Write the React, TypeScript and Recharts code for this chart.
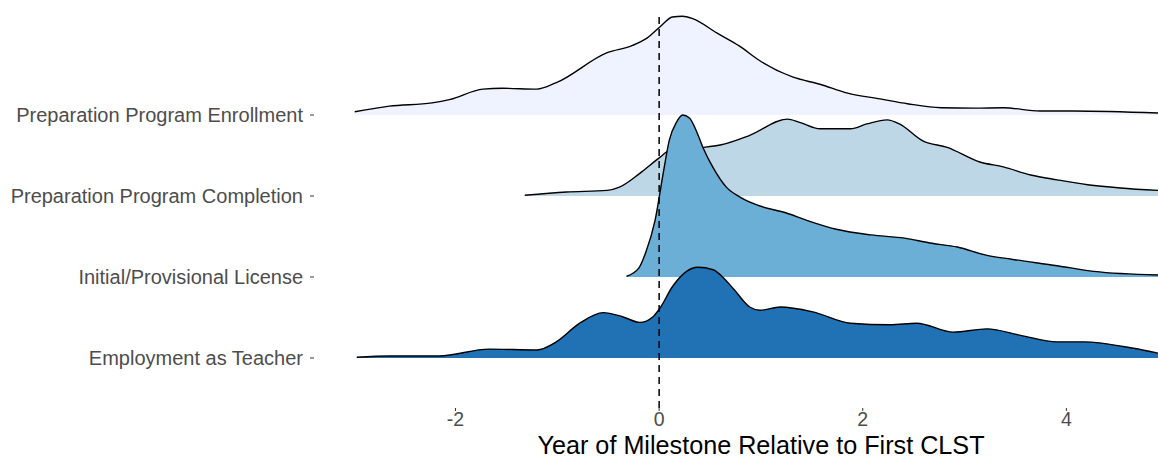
import React from 'react'
import {
  ComposedChart,
  Area,
  XAxis,
  YAxis,
  ReferenceLine,
  Label,
} from 'recharts'

// ridge rows, bottom to top (y position 1..4)
const categories = [
  'Employment as Teacher',
  'Initial/Provisional License',
  'Preparation Program Completion',
  'Preparation Program Enrollment',
]
const ridgeBase = [1, 2, 3, 4]
const xTicks = [-2, 0, 2, 4]

// [year relative to first CLST, ridge height]
const enrollment: [number, number][] = [
  [-2.99, 0.04], [-2.65, 0.11], [-2.23, 0.15], [-2.06, 0.19], [-1.73, 0.32],
  [-1.54, 0.33], [-1.2, 0.32], [-1.01, 0.4], [-0.51, 0.77], [-0.26, 0.86],
  [-0.12, 0.95], [0.01, 1.09], [0.13, 1.21], [0.23, 1.22], [0.33, 1.19],
  [0.57, 1.01], [0.79, 0.85], [0.99, 0.67], [1.31, 0.47], [1.58, 0.38],
  [1.85, 0.27], [2.17, 0.2], [2.44, 0.14], [2.77, 0.09], [3.1, 0.085],
  [3.38, 0.09], [3.74, 0.05], [4.07, 0.05], [4.9, 0.025],
]

const completion: [number, number][] = [
  [-1.32, 0.01], [-0.91, 0.05], [-0.51, 0.07], [-0.39, 0.11], [-0.19, 0.28],
  [0.01, 0.48], [0.1, 0.56], [0.25, 0.58], [0.43, 0.6], [0.6, 0.63],
  [0.89, 0.75], [1.26, 0.95], [1.38, 0.91], [1.58, 0.83], [1.88, 0.83],
  [2.04, 0.89], [2.24, 0.94], [2.36, 0.89], [2.59, 0.68], [2.83, 0.6],
  [3.15, 0.42], [3.38, 0.36], [3.65, 0.26], [3.91, 0.2], [4.21, 0.14],
  [4.53, 0.1], [4.9, 0.07],
]

const license: [number, number][] = [
  [-0.32, 0.01], [-0.2, 0.11], [-0.13, 0.31], [-0.04, 0.7], [0.04, 1.28],
  [0.1, 1.69], [0.17, 1.91], [0.23, 2.0], [0.3, 1.96], [0.37, 1.79],
  [0.43, 1.6], [0.53, 1.35], [0.66, 1.11], [0.79, 0.99], [0.96, 0.89],
  [1.25, 0.79], [1.45, 0.7], [1.74, 0.59], [2.08, 0.52], [2.41, 0.48],
  [2.66, 0.42], [2.93, 0.37], [3.21, 0.27], [3.46, 0.22], [3.91, 0.14],
  [4.27, 0.07], [4.9, 0.025],
]

const employment: [number, number][] = [
  [-2.97, 0.01], [-2.65, 0.025], [-2.16, 0.025], [-1.67, 0.11], [-1.2, 0.1],
  [-1.01, 0.2], [-0.78, 0.43], [-0.55, 0.56], [-0.36, 0.51], [-0.19, 0.44],
  [-0.06, 0.51], [0.01, 0.62], [0.13, 0.88], [0.27, 1.07], [0.38, 1.12],
  [0.53, 1.09], [0.64, 0.98], [0.74, 0.84], [0.89, 0.63], [0.99, 0.59],
  [1.19, 0.63], [1.51, 0.57], [1.88, 0.43], [2.27, 0.41], [2.53, 0.43],
  [2.89, 0.32], [3.22, 0.36], [3.55, 0.28], [3.91, 0.2], [4.17, 0.2],
  [4.66, 0.12], [4.9, 0.06],
]

// drawn top ridge first so lower ridges overlap it
const series = [
  { key: 'enrollment', points: enrollment, base: 4, fill: '#EFF3FF' },
  { key: 'completion', points: completion, base: 3, fill: '#BDD7E7' },
  { key: 'license', points: license, base: 2, fill: '#6BAED6' },
  { key: 'employment', points: employment, base: 1, fill: '#2171B5' },
]

const rows = new Map<number, Record<string, number>>()
series.forEach((s) => {
  s.points.forEach(([x, h]) => {
    const row = rows.get(x) ?? { x }
    row[s.key] = s.base + h
    rows.set(x, row)
  })
})
const data = Array.from(rows.values()).sort((a, b) => a.x - b.x)

const font = "'Liberation Sans', Arial, Helvetica, sans-serif"

export default function App() {
  return (
    <div style={{ position: 'absolute', left: 0, top: 0, background: '#fff' }}>
      <ComposedChart
        width={1158}
        height={459}
        data={data}
        margin={{ top: 15, right: 0, bottom: 0, left: 0 }}
        style={{ fontFamily: font }}>
        <XAxis
          dataKey='x'
          type='number'
          domain={[-3.39, 4.9]}
          ticks={xTicks}
          allowDataOverflow
          axisLine={false}
          tickSize={3}
          tickMargin={1}
          tickLine={{ stroke: '#333333' }}
          tick={{ fill: '#4D4D4D', fontSize: 19.5 }}
          height={51}>
          <Label
            value='Year of Milestone Relative to First CLST'
            position='insideBottom'
            offset={5}
            dx={25}
            style={{ fill: '#000', fontSize: 25.2 }}
          />
        </XAxis>
        <YAxis
          type='number'
          domain={[0.383, 5.235]}
          ticks={ridgeBase}
          interval={0}
          allowDataOverflow
          tickFormatter={(v: number) => categories[v - 1]}
          axisLine={false}
          tickSize={4}
          tickMargin={7}
          tickLine={{ stroke: '#333333' }}
          tick={{ fill: '#4D4D4D', fontSize: 20 }}
          width={314}
        />
        {series.map((s) => (
          <Area
            key={s.key}
            dataKey={s.key}
            type='monotone'
            baseValue={s.base}
            connectNulls
            fill={s.fill}
            fillOpacity={1}
            stroke='#000'
            strokeWidth={1.4}
            dot={false}
            activeDot={false}
            isAnimationActive={false}
          />
        ))}
        <ReferenceLine
          x={0}
          stroke='#000'
          strokeWidth={1.5}
          strokeDasharray='7 5'
        />
      </ComposedChart>
    </div>
  )
}
